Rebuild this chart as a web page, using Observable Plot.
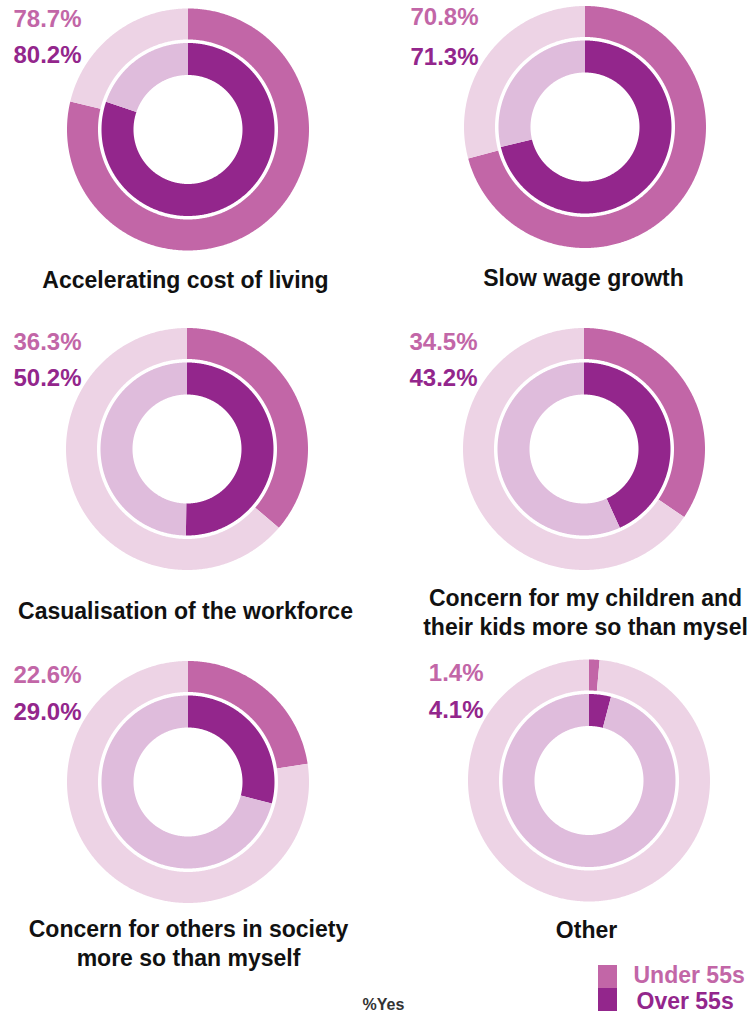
<!DOCTYPE html>
<html>
<head>
<meta charset="utf-8">
<script src="https://cdn.jsdelivr.net/npm/d3@7"></script>
<script src="https://cdn.jsdelivr.net/npm/@observablehq/plot@0.6"></script>
<style>
  html, body { margin: 0; padding: 0; background: #fff; overflow: hidden; }
  #chart svg { overflow: hidden; display: block; }
</style>
</head>
<body>
<div id="chart"></div>
<script>
// ---- data ----
const categories = [
  "Accelerating cost of living",
  "Slow wage growth",
  "Casualisation of the workforce",
  "Concern for my children and\ntheir kids more so than mysel",
  "Concern for others in society\nmore so than myself",
  "Other"
];
const under55 = [78.7, 70.8, 36.3, 34.5, 22.6, 1.4];
const over55 = [80.2, 71.3, 50.2, 43.2, 29.0, 4.1];
const seriesNames = ["Under 55s", "Over 55s"];
const footnote = "%Yes";

// ---- style / layout ----
const W = 749, H = 1013;
const colUnder = "#c266a7", colUnderLight = "#edd3e5";
const colOver = "#93268c", colOverLight = "#dfbcdc";
const font = "'Liberation Sans', Arial, sans-serif";
const centers = [[188, 129.5], [585, 127], [187, 449], [584, 449], [188, 782], [589, 780.5]];
const pctRight = [81, 478, 81, 477, 81, 483];
const pctY = [[19, 55], [17, 57], [342, 378], [342, 378], [675, 712], [673, 710]];
const titlePos = [[185, 287], [583, 285], [185, 618], [585, 634], [188, 965], [586, 937]];
const rings = [
  {values: under55, r0: 90, r1: 121, on: colUnder, off: colUnderLight},
  {values: over55, r0: 54.5, r1: 86.5, on: colOver, off: colOverLight}
];

// build annular sector outlines from the values
const arcs = [];
categories.forEach((cat, i) => {
  const [cx, cy] = centers[i];
  rings.forEach((ring, k) => {
    const v = ring.values[i];
    const parts = [[0, v, ring.on], [v, 100, ring.off]];
    parts.forEach(([p0, p1, color], j) => {
      const a0 = p0 / 100 * 2 * Math.PI, a1 = p1 / 100 * 2 * Math.PI;
      const n = Math.max(2, Math.ceil((p1 - p0) * 3.6 * 2));
      for (let s = 0; s <= n; s++) {
        const a = a0 + (a1 - a0) * s / n;
        arcs.push({
          key: `${i}-${k}-${j}`,
          color,
          ox: cx + ring.r1 * Math.sin(a), oy: cy - ring.r1 * Math.cos(a),
          ix: cx + ring.r0 * Math.sin(a), iy: cy - ring.r0 * Math.cos(a)
        });
      }
    });
  });
});

const pctLabels = [];
categories.forEach((c, i) => {
  pctLabels.push({x: pctRight[i], y: pctY[i][0], text: under55[i].toFixed(1) + "%", color: colUnder});
  pctLabels.push({x: pctRight[i], y: pctY[i][1], text: over55[i].toFixed(1) + "%", color: colOver});
});
const titles = categories.map((c, i) => ({x: titlePos[i][0], y: titlePos[i][1], text: c}));
const legendRects = [
  {x1: 598, x2: 617, y1: 965, y2: 988, color: colUnder},
  {x1: 598, x2: 617, y1: 988, y2: 1011, color: colOver}
];
const legendText = [
  {x: 633, y: 982, text: seriesNames[0], color: colUnder},
  {x: 636, y: 1008, text: seriesNames[1], color: colOver}
];

const chart = Plot.plot({
  width: W, height: H,
  margin: 0, marginTop: 0, marginRight: 0, marginBottom: 0, marginLeft: 0,
  x: {domain: [0, W], range: [0, W], axis: null},
  y: {domain: [0, H], range: [0, H], axis: null},
  color: {type: "identity"},
  style: {fontFamily: font, background: "#fff"},
  marks: [
    Plot.area(arcs, {x1: "ox", y1: "oy", x2: "ix", y2: "iy", z: "key", fill: "color", curve: "linear"}),
    Plot.text(pctLabels, {x: "x", y: "y", text: "text", fill: "color", textAnchor: "end", lineAnchor: "middle",
      fontSize: 24, fontWeight: "bold", fontFamily: font}),
    Plot.text(titles, {x: "x", y: "y", text: "text", fill: "#111", textAnchor: "middle", lineAnchor: "bottom",
      lineHeight: 1.26, fontSize: 23, fontWeight: "bold", fontFamily: font}),
    Plot.rect(legendRects, {x1: "x1", x2: "x2", y1: "y1", y2: "y2", fill: "color"}),
    Plot.text(legendText, {x: "x", y: "y", text: "text", fill: "color", textAnchor: "start", lineAnchor: "bottom",
      fontSize: 23, fontWeight: "bold", fontFamily: font}),
    Plot.text([footnote], {x: () => 362, y: () => 1009, text: d => d, fill: "#333", textAnchor: "start",
      lineAnchor: "bottom", fontSize: 16, fontWeight: "bold", fontFamily: font})
  ]
});
document.getElementById("chart").appendChild(chart);
</script>
</body>
</html>
